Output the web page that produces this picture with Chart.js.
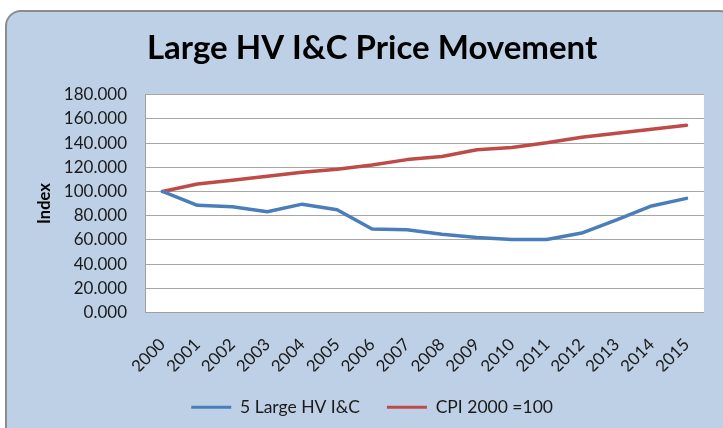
<!DOCTYPE html>
<html>
<head>
<meta charset="utf-8">
<script src="https://cdn.jsdelivr.net/npm/chart.js@4"></script>
<style>
  html, body { margin: 0; padding: 0; background: #ffffff; overflow: hidden; }
  #bg { position: absolute; left: 5px; top: 10px; width: 730px; height: 440px;
        background: #bed0e6; border: 2px solid #8c8c8c; border-radius: 16px; box-sizing: border-box; }
  #wrap { position: absolute; left: 0; top: 0; width: 723px; height: 428px; }
</style>
</head>
<body>
<div id="bg"></div>
<div id="wrap"><canvas id="c" width="723" height="428"></canvas></div>
<script>
const categories = ["2000","2001","2002","2003","2004","2005","2006","2007","2008","2009","2010","2011","2012","2013","2014","2015"];
const largeHV = [100, 88.5, 87.3, 83.2, 89.5, 84.9, 69.0, 68.3, 64.6, 62.0, 60.3, 60.3, 65.6, 76.6, 88.0, 94.3];
const cpi = [100, 106.2, 109.3, 112.6, 115.8, 118.3, 121.8, 126.3, 128.9, 134.5, 136.3, 140.2, 144.8, 148.0, 151.3, 154.6];
const yTickLabels = ["0.000","20.000","40.000","60.000","80.000","100.000","120.000","140.000","160.000","180.000"];
const seriesNames = ["5 Large HV I&C", "CPI 2000 =100"];
const titleText = "Large HV I&C Price Movement";
const yAxisTitle = "Index";

const plotBg = {
  id: 'plotBg',
  beforeDraw(chart) {
    const {ctx, chartArea: a} = chart;
    ctx.save();
    ctx.fillStyle = '#ffffff';
    ctx.fillRect(a.left, a.top, a.right - a.left, a.bottom - a.top);
    ctx.restore();
  }
};

new Chart(document.getElementById('c'), {
  type: 'line',
  data: {
    labels: categories,
    datasets: [
      { label: seriesNames[0], data: largeHV, borderColor: '#4a7ebb', backgroundColor: '#4a7ebb',
        borderWidth: 3.5, pointRadius: 0, tension: 0, borderJoinStyle: 'round', borderCapStyle: 'round', fill: false },
      { label: seriesNames[1], data: cpi, borderColor: '#be4b48', backgroundColor: '#be4b48',
        borderWidth: 3.5, pointRadius: 0, tension: 0, borderJoinStyle: 'round', borderCapStyle: 'round', fill: false }
    ]
  },
  options: {
    responsive: false,
    animation: false,
    layout: { padding: { top: 0, left: 24, right: 2.8, bottom: 2 } },
    plugins: {
      title: {
        display: true, text: titleText, color: '#000000',
        font: { family: 'Lato', size: 33, weight: 'bold' },
        padding: { top: 29, bottom: 26 }
      },
      legend: {
        position: 'bottom',
        labels: {
          color: '#1a1a1a',
          font: { family: 'Lato', size: 17.5 },
          boxWidth: 40, boxHeight: 3, padding: 27,
          generateLabels(chart) {
            const items = Chart.defaults.plugins.legend.labels.generateLabels(chart);
            items.forEach(it => { it.lineWidth = 0; it.fillStyle = it.strokeStyle; });
            return items;
          }
        }
      },
      tooltip: { enabled: false }
    },
    scales: {
      x: {
        offset: true,
        grid: { display: false, drawTicks: false },
        border: { display: true, color: '#a0a0a0', width: 1 },
        ticks: { color: '#1a1a1a', font: { family: 'Lato', size: 17 }, minRotation: 45, maxRotation: 45, padding: 22, autoSkip: false },
        afterFit(s) { s.height = 59; }
      },
      y: {
        min: 0, max: 180,
        grid: { color: '#a6a6a6', drawTicks: false, lineWidth: 1 },
        border: { display: true, color: '#a0a0a0', width: 1 },
        ticks: { stepSize: 20, padding: 18, autoSkip: false, color: '#1a1a1a', font: { family: 'Lato', size: 17 },
                 callback: (v) => yTickLabels[Math.round(v / 20)] },
        title: { display: true, text: yAxisTitle, color: '#000000', font: { family: 'Lato', size: 16.5, weight: 'bold' },
                 padding: { top: 11, bottom: 0 } },
        afterFit(s) { s.width = 121; }
      }
    }
  },
  plugins: [plotBg]
});
</script>
</body>
</html>
